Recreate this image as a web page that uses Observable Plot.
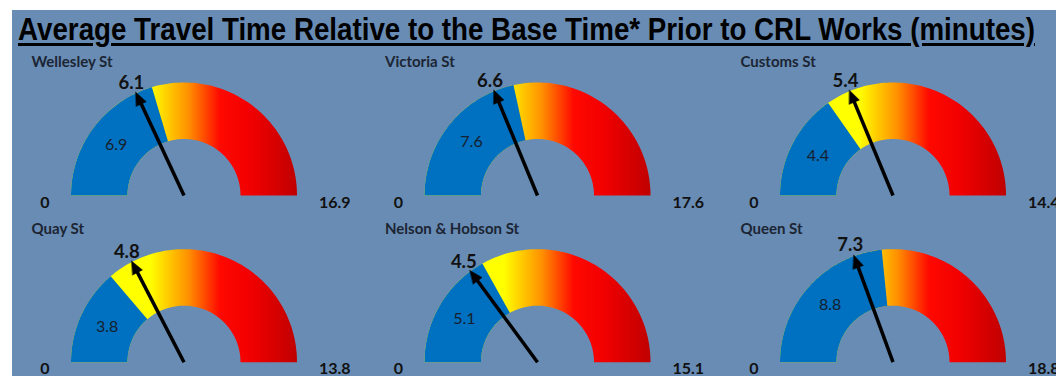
<!DOCTYPE html>
<html><head><meta charset="utf-8">
<script src="https://cdn.jsdelivr.net/npm/d3@7"></script>
<script src="https://cdn.jsdelivr.net/npm/@observablehq/plot@0.6"></script>
<style>
html,body{margin:0;padding:0;background:#fff;width:1056px;height:376px;overflow:hidden}
#panel{position:absolute;left:12px;top:10px;width:1044px;height:366px;background:#688cb4;overflow:hidden}
#title{position:absolute;left:6px;top:2px;white-space:nowrap;font-family:"Liberation Sans",Arial,sans-serif;font-weight:bold;font-size:31px;line-height:36px;color:#000;text-decoration:underline;text-decoration-thickness:3px;text-underline-offset:3px;transform-origin:0 0}
#chart{position:absolute;left:0;top:38px}
</style></head>
<body><div id="panel"><div id="title">Average Travel Time Relative to the Base Time* Prior to CRL Works (minutes)</div><div id="chart"></div></div>
<script>
// ---- data ----
const names = ["Wellesley St", "Victoria St", "Customs St", "Quay St", "Nelson & Hobson St", "Queen St"];
const baseTimes = [6.9, 7.6, 4.4, 3.8, 5.1, 8.8];
const currentTimes = [6.1, 6.6, 5.4, 4.8, 4.5, 7.3];
const maxTimes = [16.9, 17.6, 14.4, 13.8, 15.1, 18.8];
const minTimes = [0, 0, 0, 0, 0, 0];

// ---- layout ----
const W = 1044, H = 328;
const colX = [171.5, 525, 880.5], rowY = [147, 313.7];
const R = 113, R0 = 56.5;

const gauges = names.map((name, i) => ({
  id: i, name, base: baseTimes[i], current: currentTimes[i], max: maxTimes[i], min: minTimes[i],
  cx: colX[i % 3], cy: rowY[Math.floor(i / 3)]
}));
const ang = (g, v) => Math.PI * (1 - (v - g.min) / (g.max - g.min));
const pt = (g, v, r, off = 0) => {
  const a = ang(g, v);
  return {x: g.cx + r * Math.cos(a) + off * Math.sin(a), y: g.cy - r * Math.sin(a) + off * Math.cos(a)};
};
function arc(g, v0, v1, n = 120) {
  const pts = [];
  for (let k = 0; k <= n; k++) pts.push({id: g.id, ...pt(g, v0 + (v1 - v0) * k / n, R)});
  for (let k = n; k >= 0; k--) pts.push({id: g.id, ...pt(g, v0 + (v1 - v0) * k / n, R0)});
  return pts;
}
const ring = gauges.flatMap(g => arc(g, g.min, g.max));
const blue = gauges.flatMap(g => arc(g, g.min, g.base));
const heads = gauges.flatMap(g => [
  {id: g.id, ...pt(g, g.current, R + 1)},
  {id: g.id, ...pt(g, g.current, R - 12, 5.5)},
  {id: g.id, ...pt(g, g.current, R - 12, -5.5)}
]);
const fmt = v => (Math.round(v * 10) / 10).toString();
const ff = "Lato, 'Open Sans', sans-serif";

const plot = Plot.plot({
  width: W, height: H, margin: 0,
  x: {domain: [0, W], range: [0, W], axis: null},
  y: {domain: [0, H], range: [0, H], axis: null},
  style: {background: "transparent", fontFamily: ff},
  marks: [
    Plot.line(ring, {x: "x", y: "y", z: "id", fill: "url(#gaugeGrad)", stroke: "none", curve: "linear"}),
    Plot.line(blue, {x: "x", y: "y", z: "id", fill: "#0070c0", stroke: "none", curve: "linear"}),
    Plot.link(gauges, {x1: "cx", y1: "cy", x2: g => pt(g, g.current, R - 9).x, y2: g => pt(g, g.current, R - 9).y,
      stroke: "#000", strokeWidth: 3.5}),
    Plot.line(heads, {x: "x", y: "y", z: "id", fill: "#000", stroke: "#000", strokeWidth: 0.5, curve: "linear-closed"}),
    Plot.text(gauges, {x: g => g.cx - 152.5, y: g => g.cy - 133, text: "name", textAnchor: "start",
      fontWeight: "bold", fontSize: 15, fill: "#1c2533", fontFamily: ff}),
    Plot.text(gauges, {x: g => pt(g, g.current, R * 1.1).x, y: g => pt(g, g.current, R * 1.1).y,
      text: g => fmt(g.current), fontWeight: "bold", fontSize: 18.5, fill: "#111", fontFamily: ff}),
    Plot.text(gauges, {x: g => pt(g, g.base / 2, (R + R0) / 2).x, y: g => pt(g, g.base / 2, (R + R0) / 2).y,
      text: g => fmt(g.base), fontSize: 16, fill: "#16202e", fontFamily: ff}),
    Plot.text(gauges, {x: g => g.cx - 139, y: g => g.cy + 7, text: g => fmt(g.min),
      fontWeight: "bold", fontSize: 16, fill: "#111", fontFamily: ff}),
    Plot.text(gauges, {x: g => g.cx + 135, y: g => g.cy + 7, text: g => fmt(g.max), textAnchor: "start",
      fontWeight: "bold", fontSize: 16, fill: "#111", fontFamily: ff})
  ]
});
d3.select(plot).insert("defs", ":first-child").html(
  `<linearGradient id="gaugeGrad" x1="0" y1="0" x2="1" y2="0">
     <stop offset="0" stop-color="#ffff00"/>
     <stop offset="0.35" stop-color="#ffff00"/>
     <stop offset="0.52" stop-color="#ff9000"/>
     <stop offset="0.66" stop-color="#ff0800"/>
     <stop offset="0.8" stop-color="#f00000"/>
     <stop offset="1" stop-color="#bf0000"/>
   </linearGradient>`);
document.getElementById("chart").appendChild(plot);

const t = document.getElementById("title");
const w = t.getBoundingClientRect().width;
t.style.transform = `scaleX(${1017 / w})`;
</script>
</body></html>
